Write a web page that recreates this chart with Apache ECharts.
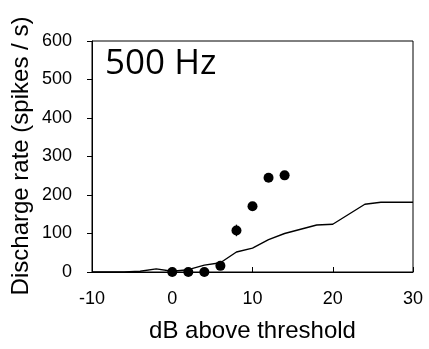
<!DOCTYPE html>
<html><head><meta charset="utf-8">
<script src="https://cdn.jsdelivr.net/npm/echarts@6/dist/echarts.min.js"></script>
<style>html,body{margin:0;padding:0;background:#fff}#c{width:429px;height:349px}</style>
</head><body><div id="c"></div>
<script>
// data
const pointX = [0, 2, 4, 6, 8, 10, 12, 14];
const pointY = [0, 0, 0, 16, 108, 171, 245, 251];
const pointErr = [0, 0, 0, 3, 15, 4, 4, 4];
const lineX = [-10, -8, -6, -4, -2, 0, 2, 4, 6, 8, 10, 12, 14, 16, 18, 20, 22, 24, 26, 28, 30];
const lineY = [0, 0, 0, 2, 8, 2, 6, 18, 24, 52, 62, 84, 100, 111, 122, 124, 150, 176, 181, 181, 181];
const xTicks = [-10, 0, 10, 20, 30];
const yTicks = [0, 100, 200, 300, 400, 500, 600];
const panelLabel = '500 Hz';
const xTitle = 'dB above threshold';
const yTitle = 'Discharge rate (spikes / s)';

const chart = echarts.init(document.getElementById('c'), null, {renderer: 'canvas'});
const font = '"Liberation Sans", Arial, sans-serif';
chart.setOption({
  animation: false,
  title: {text: panelLabel, left: 100, top: 42,
    textStyle: {fontFamily: '"Open Sans", sans-serif', fontSize: 35, fontWeight: 'normal', color: '#000'}},
  graphic: [{type: 'text', x: 21, y: 156, rotation: Math.PI / 2,
    style: {text: yTitle, fontFamily: font, fontSize: 24, fill: '#000', align: 'center', verticalAlign: 'middle'}}],
  grid: {left: 92, right: 16, top: 41, bottom: 77, show: true, borderColor: '#000', borderWidth: 1},
  xAxis: {type: 'value', min: xTicks[0], max: xTicks[xTicks.length - 1], interval: 10,
    name: xTitle, nameLocation: 'middle', nameGap: 47,
    nameTextStyle: {fontFamily: font, fontSize: 24, color: '#000'},
    axisLine: {onZero: false, lineStyle: {color: '#000', width: 1}},
    axisTick: {inside: true, length: 5, lineStyle: {color: '#000'}},
    axisLabel: {fontFamily: font, fontSize: 18, color: '#000', margin: 18},
    splitLine: {show: false}},
  yAxis: {type: 'value', min: yTicks[0], max: yTicks[yTicks.length - 1], interval: 100,
    axisLine: {onZero: false, lineStyle: {color: '#000', width: 1}},
    axisTick: {length: 5, lineStyle: {color: '#000'}},
    axisLabel: {fontFamily: font, fontSize: 18, color: '#000', margin: 20},
    splitLine: {show: false}},
  series: [
    {type: 'line', data: lineX.map((x, i) => [x, lineY[i]]), showSymbol: false,
      lineStyle: {color: '#000', width: 1.4}, z: 2},
    {type: 'custom', data: pointX.map((x, i) => [x, pointY[i], pointErr[i]]), z: 3,
      renderItem: function (params, api) {
        const x = api.value(0), y = api.value(1), e = api.value(2);
        const p1 = api.coord([x, y - e]), p2 = api.coord([x, y + e]);
        return {type: 'line', shape: {x1: p1[0], y1: p1[1], x2: p2[0], y2: p2[1]},
          style: {stroke: '#000', lineWidth: 1.3}};
      }},
    {type: 'scatter', data: pointX.map((x, i) => [x, pointY[i]]), symbol: 'circle', symbolSize: 10,
      itemStyle: {color: '#000', opacity: 1}, z: 4}
  ]
});
</script></body></html>
